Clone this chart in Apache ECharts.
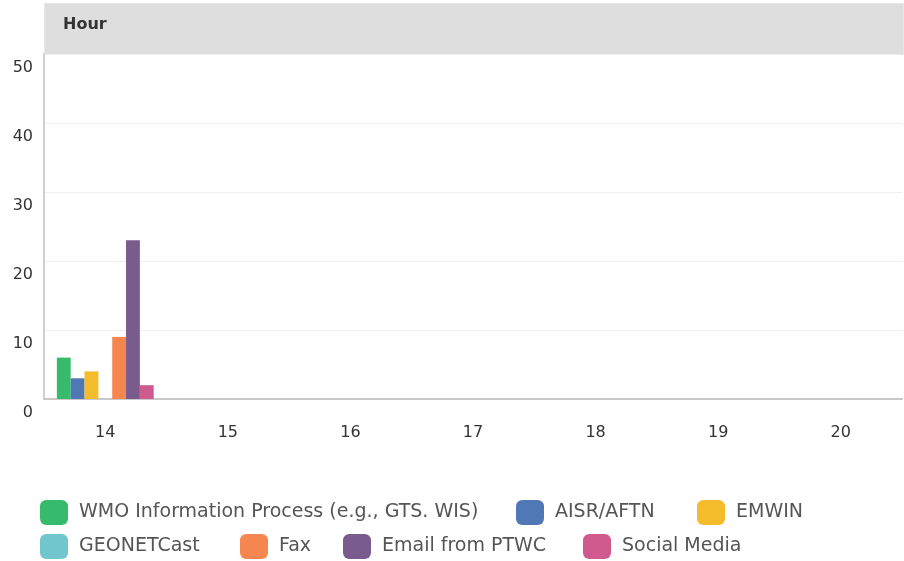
<!DOCTYPE html>
<html lang="en">
<head>
  <meta http-equiv="Content-Type" content="text/html; charset=UTF-8">
  <title>Hour</title>
  <style>
    html, body { margin: 0; padding: 0; background: #fff; }
  </style>
</head>
<body>
  <div id="chart" style="width: 904px; height: 561px;"></div>
  <script src="https://cdn.jsdelivr.net/npm/echarts@6/dist/echarts.min.js"></script>
  <script>
    // data
    const hours = ['14', '15', '16', '17', '18', '19', '20'];
    const channels = [
      'WMO Information Process (e.g., GTS. WIS)',
      'AISR/AFTN',
      'EMWIN',
      'GEONETCast',
      'Fax',
      'Email from PTWC',
      'Social Media'
    ];
    const wmo = [6, 0, 0, 0, 0, 0, 0];
    const aisr = [3, 0, 0, 0, 0, 0, 0];
    const emwin = [4, 0, 0, 0, 0, 0, 0];
    const geonet = [0, 0, 0, 0, 0, 0, 0];
    const fax = [9, 0, 0, 0, 0, 0, 0];
    const email = [23, 0, 0, 0, 0, 0, 0];
    const social = [2, 0, 0, 0, 0, 0, 0];
    const values = [wmo, aisr, emwin, geonet, fax, email, social];
    const colors = ['#35bb6b', '#4f78b5', '#f4bb2b', '#70c6cc', '#f6864f', '#795b8d', '#d0598e'];

    // where each legend entry sits (two rows, like the original)
    const legendPos = [[40, 500], [516, 500], [697, 500], [40, 534], [240, 534], [343, 534], [583, 534]];

    const font = 'DejaVu Sans';
    const myChart = echarts.init(document.getElementById('chart'));
    const option = {
      animation: false,
      color: colors,
      textStyle: { fontFamily: font },
      graphic: [{
        type: 'rect',
        left: 44,
        top: 3,
        shape: { width: 859, height: 51 },
        style: { fill: '#dedede', stroke: '#e6e6e6', lineWidth: 1 }
      }, {
        type: 'text',
        left: 63,
        top: 17,
        style: { text: 'Hour', fill: '#333', font: 'bold 16px "DejaVu Sans"' }
      }],
      grid: {
        left: 44,
        right: 2,
        top: 54,
        bottom: 162
      },
      legend: channels.map((name, i) => ({
        left: legendPos[i][0],
        top: legendPos[i][1],
        padding: 0,
        itemWidth: 28,
        itemHeight: 25,
        itemGap: 10,
        icon: 'roundRect',
        data: [name],
        textStyle: { fontSize: 19, color: '#555', fontFamily: font, padding: [0, 0, 0, 6] }
      })),
      xAxis: {
        type: 'category',
        data: hours,
        axisTick: { show: false },
        axisLine: { lineStyle: { color: '#c8c8c8', width: 2 } },
        axisLabel: { fontSize: 16, color: '#333', margin: 26 }
      },
      yAxis: {
        type: 'value',
        min: 0,
        max: 50,
        interval: 10,
        axisLine: { show: true, lineStyle: { color: '#d0d0d0', width: 2 } },
        splitLine: { lineStyle: { color: '#eeeeee' } },
        axisLabel: {
          fontSize: 16,
          color: '#333',
          margin: 11,
          verticalAlign: 'top',
          padding: [6, 0, 0, 0]
        }
      },
      series: channels.map((name, i) => ({
        name: name,
        type: 'bar',
        data: values[i],
        barGap: '0%',
        barCategoryGap: '21%'
      }))
    };
    myChart.setOption(option);
  </script>
</body>
</html>
